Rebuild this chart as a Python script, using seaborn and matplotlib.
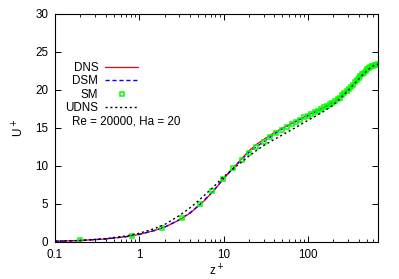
import matplotlib
matplotlib.use("Agg")
import matplotlib.pyplot as plt
import matplotlib.ticker as mticker
import seaborn as sns

# ---------------- data ----------------
dns_z = [0.1, 0.2, 0.4, 0.7, 1, 1.5, 2, 3, 4, 5, 6, 7, 8, 10, 12, 15, 20, 25, 30, 40,
         50, 70, 100, 150, 200, 270, 330, 430, 520, 600, 680]
dns_u = [0.1, 0.2, 0.4, 0.7, 1.0, 1.5, 1.95, 2.9, 3.8, 4.7, 5.5, 6.3, 7.0, 8.3, 9.3, 10.5,
         12.0, 12.9, 13.5, 14.4, 15.0, 15.8, 16.7, 17.6, 18.35, 19.6, 20.5, 21.95, 22.8, 23.2, 23.4]

dsm_z = [0.1, 0.2, 0.4, 0.7, 1, 1.5, 2, 3, 4, 5, 6, 7, 8, 10, 12, 15, 20, 25, 30, 40,
         50, 70, 100, 150, 200, 270, 330, 430, 520, 600, 680]
dsm_u = [0.1, 0.2, 0.4, 0.7, 1.0, 1.5, 1.95, 2.95, 3.85, 4.75, 5.6, 6.35, 7.05, 8.35, 9.3, 10.4,
         11.8, 12.6, 13.2, 14.2, 14.9, 15.8, 16.6, 17.6, 18.35, 19.6, 20.5, 21.95, 22.8, 23.2, 23.4]

sm_z = [0.2, 0.82, 1.85, 3.2, 5.2, 7.3, 9.8, 13, 16.6, 20, 24.5,
        30, 36, 42, 49, 56, 64, 72, 81, 90, 100, 110, 121, 132, 144, 156, 169, 182, 196,
        210, 225, 240, 256, 272, 289, 306, 324, 342, 361, 380, 400, 420, 441, 462, 484,
        506, 529, 552, 576, 600, 625, 650, 676]
sm_u = [0.2, 0.8, 1.8, 3.2, 4.95, 6.7, 8.3, 9.7, 10.8, 11.75, 12.55,
        13.2, 13.8, 14.3, 14.7, 15.1, 15.5, 15.8, 16.1, 16.4, 16.6, 16.9, 17.1, 17.3, 17.5,
        17.7, 17.9, 18.1, 18.3, 18.5, 18.8, 19.0, 19.3, 19.6, 19.9, 20.1, 20.4, 20.7, 21.0,
        21.3, 21.6, 21.9, 22.1, 22.3, 22.5, 22.7, 22.9, 23.0, 23.1, 23.2, 23.3, 23.35, 23.4]

udns_z = [0.1, 0.2, 0.4, 0.7, 1, 1.5, 2, 3, 4, 5, 6, 7, 8, 10, 12, 15, 20, 25, 30, 40,
          50, 70, 100, 150, 200, 270, 330, 430, 520, 600, 680]
udns_u = [0.1, 0.2, 0.45, 0.8, 1.15, 1.75, 2.3, 3.5, 4.5, 5.4, 6.2, 6.9, 7.5, 8.6, 9.3, 10.2,
          11.3, 12.1, 12.7, 13.5, 14.1, 15.0, 16.0, 17.1, 18.0, 19.4, 20.4, 21.8, 22.7, 23.2, 23.4]

x_ticks = [0.1, 1, 10, 100]
x_tick_labels = ["0.1", "1", "10", "100"]
y_ticks = [0, 5, 10, 15, 20, 25, 30]
annotation = "Re = 20000, Ha = 20"

# ---------------- style ----------------
sns.set_theme(style="ticks")
plt.rcParams["font.family"] = ["Liberation Sans", "DejaVu Sans"]
plt.rcParams["text.color"] = "black"
plt.rcParams["axes.labelcolor"] = "black"
FS = 8.4
plt.rcParams["font.size"] = FS

fig = plt.figure(figsize=(3.99, 2.79), dpi=100)
ax = fig.add_axes([55 / 399, 1 - 242 / 279, 323 / 399, 228 / 279])

sns.lineplot(x=dns_z, y=dns_u, ax=ax, color="#ff0000", lw=0.9, label="DNS",
             estimator=None, sort=False)
sns.lineplot(x=dsm_z, y=dsm_u, ax=ax, color="#0000ff", lw=1.0, label="DSM",
             dashes=False, linestyle=(0, (3, 2)), estimator=None, sort=False)
sns.lineplot(x=sm_z, y=sm_u, ax=ax, color="#00ff00", linestyle="", marker="s",
             markersize=3.3, markerfacecolor="none", markeredgecolor="#00ff00",
             markeredgewidth=1.1, label="SM", estimator=None, sort=False)
sns.lineplot(x=udns_z, y=udns_u, ax=ax, color="black", lw=1.0, label="UDNS",
             linestyle=(0, (1.5, 2)), estimator=None, sort=False)

ax.set_xscale("log")
ax.set_xlim(0.1, 680)
ax.set_ylim(0, 30)
ax.set_xticks(x_ticks, x_tick_labels)
ax.set_yticks(y_ticks)
ax.xaxis.set_minor_locator(mticker.LogLocator(base=10, subs=range(2, 10), numticks=20))
ax.xaxis.set_minor_formatter(mticker.NullFormatter())

ax.tick_params(axis="both", which="major", direction="in", length=4, width=0.7,
               top=True, right=True, labelsize=FS, colors="black", pad=5)
ax.tick_params(axis="x", which="minor", direction="in", length=2, width=0.6,
               top=True, bottom=True, colors="black")
for s in ax.spines.values():
    s.set_color("black")
    s.set_linewidth(0.8)

ax.set_xlabel("z$^+$", fontsize=FS, labelpad=2, color="black")
ax.set_ylabel("U$^+$", fontsize=FS, labelpad=6, color="black")

leg = ax.legend(loc="upper right", bbox_to_anchor=((138 - 55) / 323, (242 - 62) / 228),
                frameon=False, markerfirst=False, fontsize=FS, handlelength=2.8,
                handletextpad=0.6, labelspacing=0.12, borderpad=0, borderaxespad=0,
                labelcolor="black")

ax.text((126 - 55) / 323, (242 - 121) / 228, annotation, transform=ax.transAxes,
        ha="center", va="center", fontsize=FS, color="black")

fig.savefig("out.png", dpi=100)
